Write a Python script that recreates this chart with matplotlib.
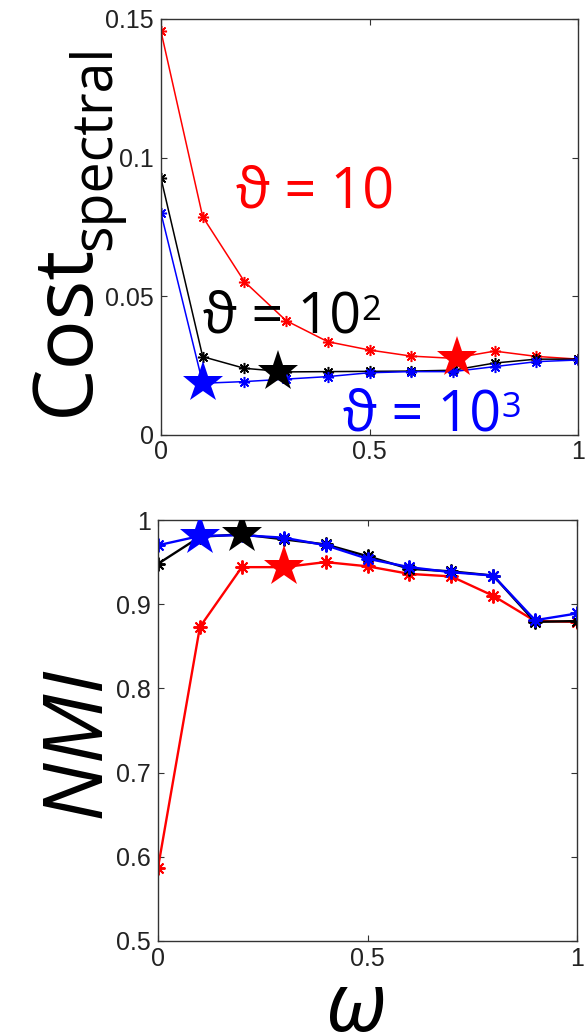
import matplotlib
matplotlib.use("Agg")
import matplotlib.pyplot as plt

# weighting parameter omega
omega = [0.0, 0.1, 0.2, 0.3, 0.4, 0.5, 0.6, 0.7, 0.8, 0.9, 1.0]

# spectral cost for three values of theta
cost_t10 = [0.1455, 0.0786, 0.0552, 0.0411, 0.0335, 0.0305, 0.0283, 0.0275, 0.0301, 0.0282, 0.0272]
cost_t100 = [0.0925, 0.0281, 0.0239, 0.0226, 0.0227, 0.0228, 0.0229, 0.0232, 0.0258, 0.0272, 0.0272]
cost_t1000 = [0.0799, 0.0185, 0.0191, 0.0200, 0.0209, 0.0223, 0.0227, 0.0227, 0.0245, 0.0263, 0.0269]

# NMI for three values of theta
nmi_t10 = [0.587, 0.873, 0.944, 0.944, 0.950, 0.945, 0.936, 0.933, 0.910, 0.880, 0.879]
nmi_t100 = [0.948, 0.980, 0.983, 0.977, 0.971, 0.957, 0.942, 0.939, 0.934, 0.879, 0.880]
nmi_t1000 = [0.970, 0.981, 0.982, 0.979, 0.970, 0.954, 0.944, 0.938, 0.934, 0.881, 0.889]

# highlighted (selected) points
cost_star_x = {"red": 0.71, "black": 0.28, "blue": 0.10}
cost_star_y = {"red": 0.0275, "black": 0.0224, "blue": 0.0185}
nmi_star_x = {"red": 0.30, "black": 0.20, "blue": 0.10}
nmi_star_y = {"red": 0.944, "black": 0.983, "blue": 0.981}

W, H = 585, 1035
fig = plt.figure(figsize=(W / 100, H / 100), dpi=100)

TICK_FONT = "Liberation Sans"
SPINE = "#333333"
AST = (8, 2, 0)


def fx(px):
    return px / W


def fy(py):
    return 1 - py / H


def style_axes(ax, yticks, ylabels):
    ax.set_xlim(0, 1)
    ax.set_xticks([0, 0.5, 1])
    ax.set_xticklabels(["0", "0.5", "1"])
    ax.set_yticks(yticks)
    ax.set_yticklabels(ylabels)
    ax.tick_params(direction="in", length=4, width=0.8, color=SPINE,
                   top=True, right=True, labelsize=18, pad=5)
    ax.tick_params(axis="x", pad=4)
    for lab in ax.get_xticklabels() + ax.get_yticklabels():
        lab.set_fontfamily(TICK_FONT)
        lab.set_color("#222222")
    for s in ax.spines.values():
        s.set_color(SPINE)
        s.set_linewidth(1.0)


# ---- top panel: spectral cost ----
ax1 = fig.add_axes([fx(161), fy(434.5), fx(578 - 161), (434.5 - 19) / H])
series_top = [(cost_t10, "red"), (cost_t100, "black"), (cost_t1000, "blue")]
for vals, c in series_top:
    ax1.plot(omega, vals, color=c, lw=1.1, marker=AST, ms=8, mew=1.1)
for c in ["red", "black", "blue"]:
    ax1.plot(cost_star_x[c], cost_star_y[c], marker="*", ms=31, color=c, mew=0, zorder=5)
ax1.set_ylim(0, 0.15)
style_axes(ax1, [0, 0.05, 0.1, 0.15], ["0", "0.05", "0.1", "0.15"])

# ---- bottom panel: NMI ----
ax2 = fig.add_axes([fx(158), fy(941), fx(577 - 158), (941 - 520) / H])
series_bot = [(nmi_t10, "red"), (nmi_t100, "black"), (nmi_t1000, "blue")]
for vals, c in series_bot:
    ax2.plot(omega, vals, color=c, lw=1.7, marker=AST, ms=10, mew=1.4)
for c in ["blue", "black", "red"]:
    ax2.plot(nmi_star_x[c], nmi_star_y[c], marker="*", ms=31, color=c, mew=0, zorder=5)
ax2.set_ylim(0.5, 1.0)
style_axes(ax2, [0.5, 0.6, 0.7, 0.8, 0.9, 1.0], ["0.5", "0.6", "0.7", "0.8", "0.9", "1"])

# ---- annotations of theta ----
LBL = ["Open Sans", "DejaVu Sans"]


def theta_label(x, y, base, sup, color, size=40):
    t = fig.text(fx(x), fy(y), base, color=color, fontsize=size,
                 family=LBL, ha="left", va="baseline")
    if sup:
        ax1.annotate(sup, xy=(1.0, 0.93), xycoords=t, color=color,
                     fontsize=size * 0.62, family=LBL, ha="left", va="top",
                     annotation_clip=False)
    return t


theta_label(236, 207, "\u03d1 = 10", "", "red")
theta_label(203, 333, "\u03d1 = 10", "2", "black")
theta_label(343, 430, "\u03d1 = 10", "3", "blue")

# ---- axis labels ----
fig.text(fx(88), fy(416), "Cost", fontsize=60, family=LBL, rotation=90,
         rotation_mode="anchor", ha="left", va="baseline")
fig.text(fx(110), fy(250), "spectral", fontsize=40, family=LBL, rotation=90,
         rotation_mode="anchor", ha="left", va="baseline")
fig.text(fx(100), fy(743), "NMI", fontsize=60, family=LBL, style="italic",
         rotation=90, rotation_mode="anchor", ha="center", va="baseline")
fig.text(fx(356), fy(1031), "\u03c9", fontsize=60, family=LBL, style="italic",
         ha="center", va="baseline")

fig.savefig("out.png", dpi=100)
